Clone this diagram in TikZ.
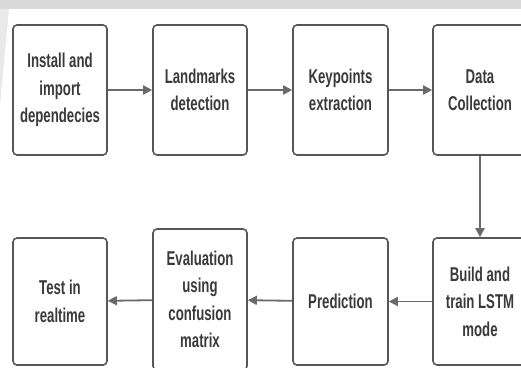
\documentclass[tikz,border=0pt]{standalone}
\usepackage{fontspec}
\setmainfont[FakeStretch=0.66]{Liberation Sans}
\usetikzlibrary{arrows.meta}
\definecolor{boxline}{HTML}{575757}
\definecolor{arrline}{HTML}{6A6A6A}
\definecolor{txt}{HTML}{3A3A3A}
\definecolor{band}{HTML}{D9D9D9}
\definecolor{wedge}{HTML}{E9E9E9}
\tikzset{
  stepbox/.style={draw=boxline, line width=1.6pt, rounded corners=4pt, fill=white,
    minimum width=94pt, minimum height=130pt, inner sep=0pt, align=center,
    text=txt, font=\fontsize{20}{27.5}\selectfont\bfseries},
  arr/.style={draw=arrline, line width=1.8pt, -{Triangle[length=9pt,width=9pt]}}
}
\begin{document}
\begin{tikzpicture}[x=1pt,y=-1pt]
\useasboundingbox (0,0) rectangle (521,367);
\fill[white] (0,0) rectangle (521,367);
\fill[band] (0,0) rectangle (521,9);
\fill[wedge] (0,9) -- (9,9) -- (0,105) -- cycle;
\begin{scope}
\clip (0,0) rectangle (521,367);
\node[stepbox] (b1) at (60,90) {Install and\\import\\dependecies};
\node[stepbox] (b2) at (200,90) {Landmarks\\detection};
\node[stepbox, minimum width=95pt] (b3) at (340.5,90) {Keypoints\\extraction};
\node[stepbox] (b4) at (480,90) {Data\\Collection};
\node[stepbox, minimum height=127pt] (b5) at (480,301.5) {Build and\\train LSTM\\mode};
\node[stepbox, minimum height=127pt, minimum width=95pt] (b6) at (340.5,301.5) {Prediction};
\node[stepbox, minimum height=141pt] (b7) at (200,299.5) {Evaluation\\using\\confusion\\matrix};
\node[stepbox, minimum height=127pt] (b8) at (60,301.5) {Test in\\realtime};
\draw[arr] (b1) -- (b2);
\draw[arr] (b2) -- (b3);
\draw[arr] (b3) -- (b4);
\draw[arr] (b4) -- (b5);
\draw[arr] (b5) -- (b6);
\draw[arr] (b6) -- (b7);
\draw[arr] (b7) -- (b8);
\end{scope}
\end{tikzpicture}
\end{document}
